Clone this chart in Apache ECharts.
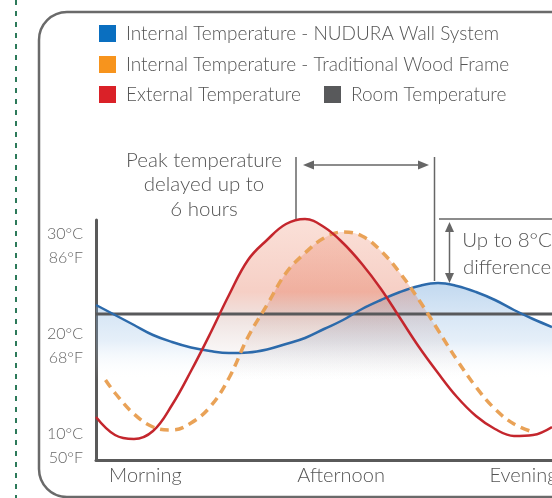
<!DOCTYPE html>
<html>
<head>
<meta charset="utf-8">
<script src="https://cdn.jsdelivr.net/npm/echarts@6/dist/echarts.min.js"></script>
<style>html,body{margin:0;padding:0;background:#fff}#c{width:552px;height:498px}</style>
</head>
<body>
<div id="c"></div>
<script>
// ---- data (hour of the cycle, temperature in °C) ----
const nuduraTemps = [[0,23.5],[1,22.5],[2,21.5],[3,20.5],[4,19.8],[5,19.25],[6,18.9],[7,18.7],[8,18.75],[9,19.05],[10,19.6],[11,20.2],[12,21.1],[13,22.0],[14,23.1],[15,24.0],[16,24.8],[17,25.4],[18,25.7],[19,25.4],[20,24.8],[21,24.0],[22,23.0],[23,22.1],[24,21.3]];
const woodTemps = [[0.5,16.0],[1,14.7],[2,12.6],[3,11.3],[4,11.0],[5,11.7],[6,13.3],[7,16.2],[8,20.3],[9,23.5],[10,26.7],[11,28.7],[12,30.2],[13,30.8],[14,30.4],[15,28.9],[16,26.7],[17,24.0],[18,21.0],[19,18.0],[20,15.3],[21,13.1],[22,11.6],[23,10.8]];
const externalTemps = [[0,12.3],[1,10.5],[2,10.1],[3,10.9],[4,13.5],[5,16.9],[6,20.6],[7,24.5],[8,28.0],[9,30.0],[10,31.6],[11,32.1],[12,31.3],[13,29.7],[14,27.6],[15,25.1],[16,22.2],[17,19.3],[18,16.7],[19,14.3],[20,12.4],[21,11.1],[22,10.4],[23,10.5],[24,11.3]];
const roomTemp = 22.6;
const yLabelValues = [10, 20, 30];
const yLabelsC = ['10°C', '20°C', '30°C'];
const yLabelsF = ['50°F', '68°F', '86°F'];
const xLabelHours = [2.6, 12.9, 22.5];
const xLabels = ['Morning', 'Afternoon', 'Evening'];
const names = {
  nudura: 'Internal Temperature - NUDURA Wall System',
  wood: 'Internal Temperature - Traditional Wood Frame',
  ext: 'External Temperature',
  room: 'Room Temperature'
};

const FONT = 'Lato, "Open Sans", sans-serif';
const chart = echarts.init(document.getElementById('c'), null, {renderer: 'canvas'});

function grad(stops, y1, y2) {
  return {type: 'linear', x: 0, y: y1, x2: 0, y2: y2, global: true,
    colorStops: stops.map(s => ({offset: s[0], color: s[1]}))};
}
const warmFill = grad([[0, 'rgba(238,138,108,0.38)'], [0.45, 'rgba(228,112,82,0.48)'], [0.62, 'rgba(195,145,135,0.36)'], [1, 'rgba(210,210,210,0)']], 220, 380);
const blueFill = grad([[0, 'rgba(95,155,215,0.55)'], [0.6, 'rgba(150,190,230,0.35)'], [1, 'rgba(255,255,255,0)']], 283, 380);

const legendBase = {
  icon: 'rect', itemWidth: 17, itemHeight: 17, selectedMode: false, orient: 'horizontal', padding: 0,
  itemStyle: {borderWidth: 0},
  textStyle: {fontFamily: FONT, fontSize: 19, fontWeight: 300, color: '#555', padding: [0, 0, 0, 5]}
};

const option = {
  animation: false,
  backgroundColor: '#fff',
  legend: [
    Object.assign({}, legendBase, {left: 99, top: 24, data: [names.nudura]}),
    Object.assign({}, legendBase, {left: 99, top: 55, data: [names.wood]}),
    Object.assign({}, legendBase, {left: 99, top: 85, data: [names.ext]}),
    Object.assign({}, legendBase, {left: 324, top: 85, data: [names.room]})
  ],
  grid: {left: 96, right: 0, top: 220, bottom: 38, containLabel: false, outerBoundsMode: 'none'},
  xAxis: {
    type: 'value', min: 0, max: 24,
    axisLine: {show: true, lineStyle: {color: '#5a5a5a', width: 3}},
    axisTick: {show: false}, splitLine: {show: false},
    axisLabel: {
      customValues: xLabelHours, margin: 6,
      fontFamily: FONT, fontSize: 20, fontWeight: 300, color: '#555',
      formatter: v => xLabels[xLabelHours.indexOf(v)] || ''
    }
  },
  yAxis: {
    type: 'value', min: 8, max: 32,
    axisLine: {show: true, lineStyle: {color: '#5a5a5a', width: 3}},
    axisTick: {show: false}, splitLine: {show: false},
    axisLabel: {
      customValues: yLabelValues, margin: 13,
      fontFamily: FONT, fontSize: 16, fontWeight: 300, color: '#666',
      rich: {
        s: {lineHeight: 12, fontSize: 4},
        a: {lineHeight: 24, fontFamily: FONT, fontSize: 16, fontWeight: 300, color: '#666'}
      },
      formatter: v => { const i = yLabelValues.indexOf(v); return i < 0 ? '' : '{s| }\n{a|' + yLabelsC[i] + '}\n{a|' + yLabelsF[i] + '}'; }
    }
  },
  series: [
    {name: 'nuduraFill', type: 'line', data: nuduraTemps, smooth: 0.4, symbol: 'none', silent: true,
     lineStyle: {width: 0, opacity: 0}, areaStyle: {color: blueFill}, z: 1},
    {name: 'woodFill', type: 'line', data: woodTemps, smooth: 0.4, symbol: 'none', silent: true,
     lineStyle: {width: 0, opacity: 0}, areaStyle: {color: warmFill}, z: 1},
    {name: 'extFill', type: 'line', data: externalTemps, smooth: 0.4, symbol: 'none', silent: true,
     lineStyle: {width: 0, opacity: 0}, areaStyle: {color: warmFill}, z: 1},
    {name: names.room, type: 'line', data: [[0, roomTemp], [24, roomTemp]], symbol: 'none', clip: false,
     itemStyle: {color: '#58595b'}, lineStyle: {color: '#58595b', width: 3}, z: 3},
    {name: names.nudura, type: 'line', data: nuduraTemps, smooth: 0.4, symbol: 'none', clip: false,
     itemStyle: {color: '#0a6fc0'}, lineStyle: {color: '#2c6aab', width: 2.5}, z: 4},
    {name: names.wood, type: 'line', data: woodTemps, smooth: 0.4, symbol: 'none', clip: false,
     itemStyle: {color: '#f7941d'}, lineStyle: {color: '#e9a257', width: 3.5, type: [9, 6]}, z: 5},
    {name: names.ext, type: 'line', data: externalTemps, smooth: 0.4, symbol: 'none', clip: false,
     itemStyle: {color: '#da2128'}, lineStyle: {color: '#c4262d', width: 2.5}, z: 6}
  ],
  graphic: [
    {type: 'line', shape: {x1: 16, y1: 0, x2: 16, y2: 498}, style: {stroke: '#2d7a5a', lineWidth: 2, lineDash: [5, 6]}},
    {type: 'rect', shape: {x: 39, y: 12, width: 600, height: 485, r: 28}, style: {fill: 'none', stroke: '#6a6a6a', lineWidth: 2.5}},
    {type: 'text', x: 204, y: 148, style: {text: 'Peak temperature\ndelayed up to\n6 hours', align: 'center', verticalAlign: 'top',
      font: '300 20.5px ' + FONT, lineHeight: 24.5, fill: '#555'}},
    {type: 'line', shape: {x1: 296, y1: 157, x2: 296, y2: 219}, style: {stroke: '#666', lineWidth: 1.5}},
    {type: 'line', shape: {x1: 434.5, y1: 157, x2: 434.5, y2: 281}, style: {stroke: '#666', lineWidth: 1.5}},
    {type: 'line', shape: {x1: 310, y1: 165, x2: 422, y2: 165}, style: {stroke: '#666', lineWidth: 1.5}},
    {type: 'polygon', shape: {points: [[303, 165], [314, 160.5], [314, 169.5]]}, style: {fill: '#666'}},
    {type: 'polygon', shape: {points: [[429, 165], [418, 160.5], [418, 169.5]]}, style: {fill: '#666'}},
    {type: 'line', shape: {x1: 439, y1: 219, x2: 552, y2: 219}, style: {stroke: '#666', lineWidth: 1.5}},
    {type: 'line', shape: {x1: 449.5, y1: 228, x2: 449.5, y2: 277}, style: {stroke: '#666', lineWidth: 1.5}},
    {type: 'polygon', shape: {points: [[449.5, 222], [445, 232], [454, 232]]}, style: {fill: '#666'}},
    {type: 'polygon', shape: {points: [[449.5, 283], [445, 273], [454, 273]]}, style: {fill: '#666'}},
    {type: 'text', x: 507, y: 227, style: {text: 'Up to 8°C\ndifference', align: 'center', verticalAlign: 'top',
      font: '300 20.5px ' + FONT, lineHeight: 27, fill: '#555'}}
  ]
};
chart.setOption(option);
</script>
</body>
</html>
